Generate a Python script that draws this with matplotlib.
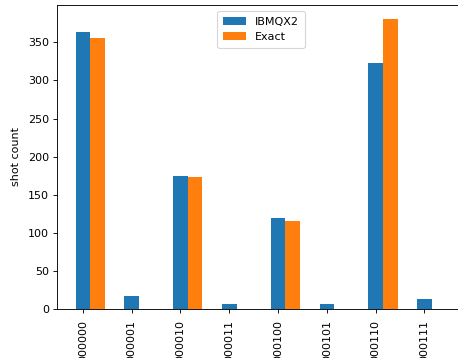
import matplotlib
matplotlib.use("Agg")
import matplotlib.pyplot as plt
import numpy as np

states = ["000000", "000001", "000010", "000011", "000100", "000101", "000110", "000111"]
ibmqx2 = [364, 17, 174, 7, 120, 6, 323, 13]
exact = [356, 0, 173, 0, 115, 0, 380, 0]

W, H = 458, 358
dpi = 80
fig = plt.figure(figsize=(W / dpi, H / dpi), dpi=dpi)
left, right, top, bottom = 57, 465, 5, 309
ax = fig.add_axes([left / W, 1 - bottom / H, (right - left) / W, (bottom - top) / H])

x = np.arange(len(states))
w = 0.3
ax.bar(x, ibmqx2, width=w, color="#1f77b4", label="IBMQX2")
ax.bar(x + w, exact, width=w, color="#ff7f0e", label="Exact")
ax.set_xticks(x)
ax.set_xticklabels(states, rotation=90)
ax.tick_params(axis="x", pad=6.5)
ax.set_ylabel("shot count", labelpad=6)
ax.legend(loc="upper center", borderpad=0.55)

fig.savefig("out.png", dpi=dpi)
